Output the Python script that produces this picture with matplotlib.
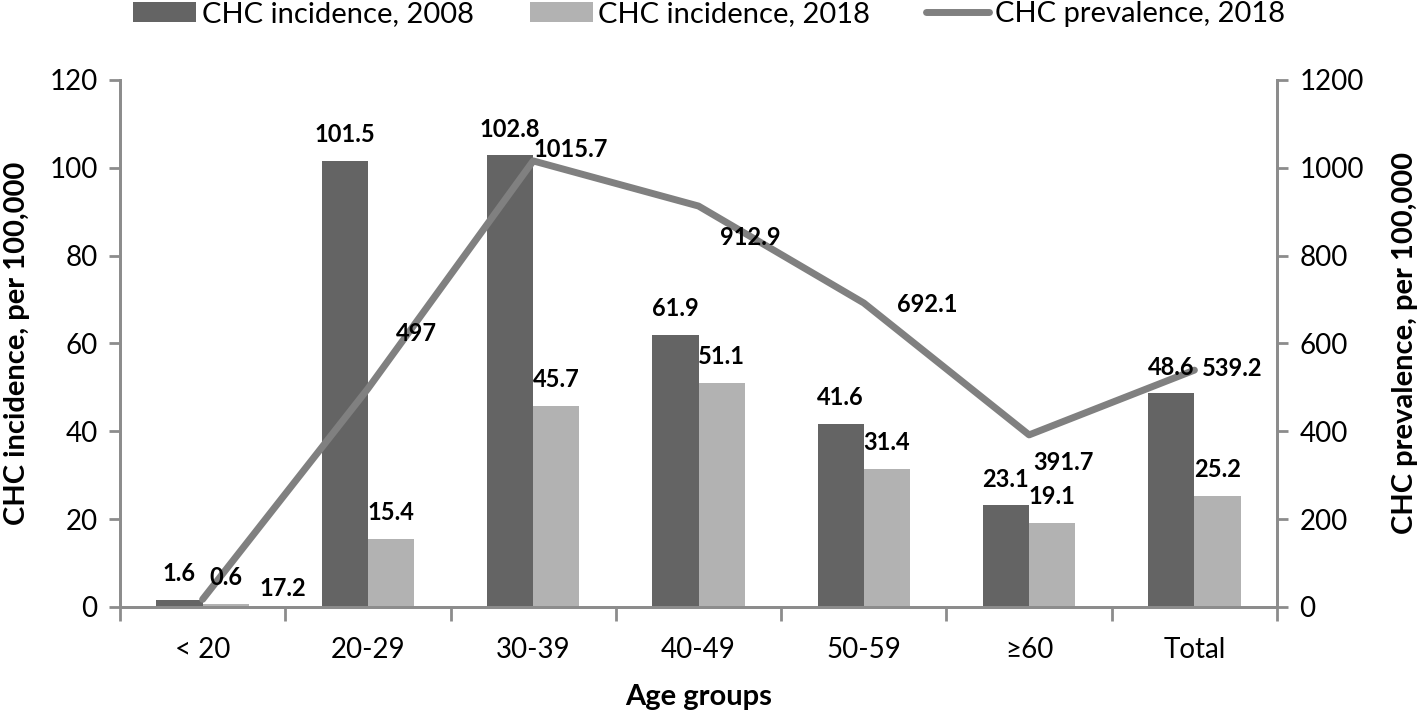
import numpy as np
import matplotlib
matplotlib.use("Agg")
from matplotlib import pyplot as plt

plt.rcParams['font.family'] = ['Lato', 'DejaVu Sans']

groups = ['< 20', '20-29', '30-39', '40-49', '50-59', '≥60', 'Total']
inc_2008 = [1.6, 101.5, 102.8, 61.9, 41.6, 23.1, 48.6]
inc_2018 = [0.6, 15.4, 45.7, 51.1, 31.4, 19.1, 25.2]
prev_2018 = [17.2, 497, 1015.7, 912.9, 692.1, 391.7, 539.2]
prev_labels = ['17.2', '497', '1015.7', '912.9', '692.1', '391.7', '539.2']

# label offsets (points) for the line labels, like Excel's "right" placement
line_offsets = [(58, 8), (35, 40), (27, 8), (37, -23), (46, -1), (25, -20), (27, 1)]

dark = '#646464'
light = '#b2b2b2'
line_c = '#808080'
spine_c = '#8c8c8c'

fig = plt.figure(figsize=(14.18, 7.14), dpi=100)
ax = fig.add_axes([0.0846, 0.150, 0.816, 0.738])
ax2 = ax.twinx()

x = np.arange(len(groups))
w = 0.28
b1 = ax.bar(x - w/2, inc_2008, w, color=dark, label='CHC incidence, 2008', zorder=2)
b2 = ax.bar(x + w/2, inc_2018, w, color=light, label='CHC incidence, 2018', zorder=2)

ln, = ax2.plot(x, prev_2018, color=line_c, lw=5, solid_capstyle='round',
               label='CHC prevalence, 2018', zorder=3)

# bar labels go on ax2 (in ax data coords) so they sit above the line
for bars, vals in ((b1, inc_2008), (b2, inc_2018)):
    for rect, v in zip(bars, vals):
        ax2.annotate(f'{v}', (rect.get_x() + rect.get_width()/2, v), xycoords=ax.transData,
                     xytext=(0, 19), textcoords='offset points', ha='center', va='center',
                     fontsize=17, fontweight='bold', zorder=5)

for xi, v, s, off in zip(x, prev_2018, prev_labels, line_offsets):
    ax2.annotate(s, (xi, v), xytext=off, textcoords='offset points',
                 ha='center', va='center', fontsize=17, fontweight='bold', zorder=5)

ax.set_xlim(-0.5, len(groups) - 0.5)
ax.set_ylim(0, 120)
ax2.set_ylim(0, 1200)
ax.set_yticks(np.arange(0, 121, 20))
ax2.set_yticks(np.arange(0, 1201, 200))

ax.set_xticks(np.arange(-0.5, len(groups), 1))
ax.set_xticklabels([])
ax.set_xticks(x, minor=True)
ax.set_xticklabels(groups, minor=True)
ax.tick_params(axis='x', which='major', length=10, width=2, color=spine_c, direction='out')
ax.tick_params(axis='x', which='minor', length=0, labelsize=20, pad=22)
ax.tick_params(axis='y', length=8, width=2, color=spine_c, labelsize=20, pad=8)
ax2.tick_params(axis='y', length=8, width=2, color=spine_c, labelsize=20, pad=8)

for a in (ax, ax2):
    a.spines['top'].set_visible(False)
    for s in ('left', 'right', 'bottom'):
        a.spines[s].set_color(spine_c)
        a.spines[s].set_linewidth(2)

ax.set_xlabel('Age groups', fontsize=21, fontweight='bold', labelpad=15)
ax.set_ylabel('CHC incidence, per 100,000', fontsize=21, fontweight='bold', labelpad=14)
ax2.set_ylabel('CHC prevalence, per 100,000', fontsize=21, fontweight='bold', labelpad=20)

fig.legend(handles=[b1, b2, ln], loc='upper center', bbox_to_anchor=(0.50, 1.035),
           ncol=3, frameon=False, fontsize=21, handlelength=2.16, handletextpad=0.2,
           columnspacing=1.9)

fig.savefig('out.png', dpi=100)
